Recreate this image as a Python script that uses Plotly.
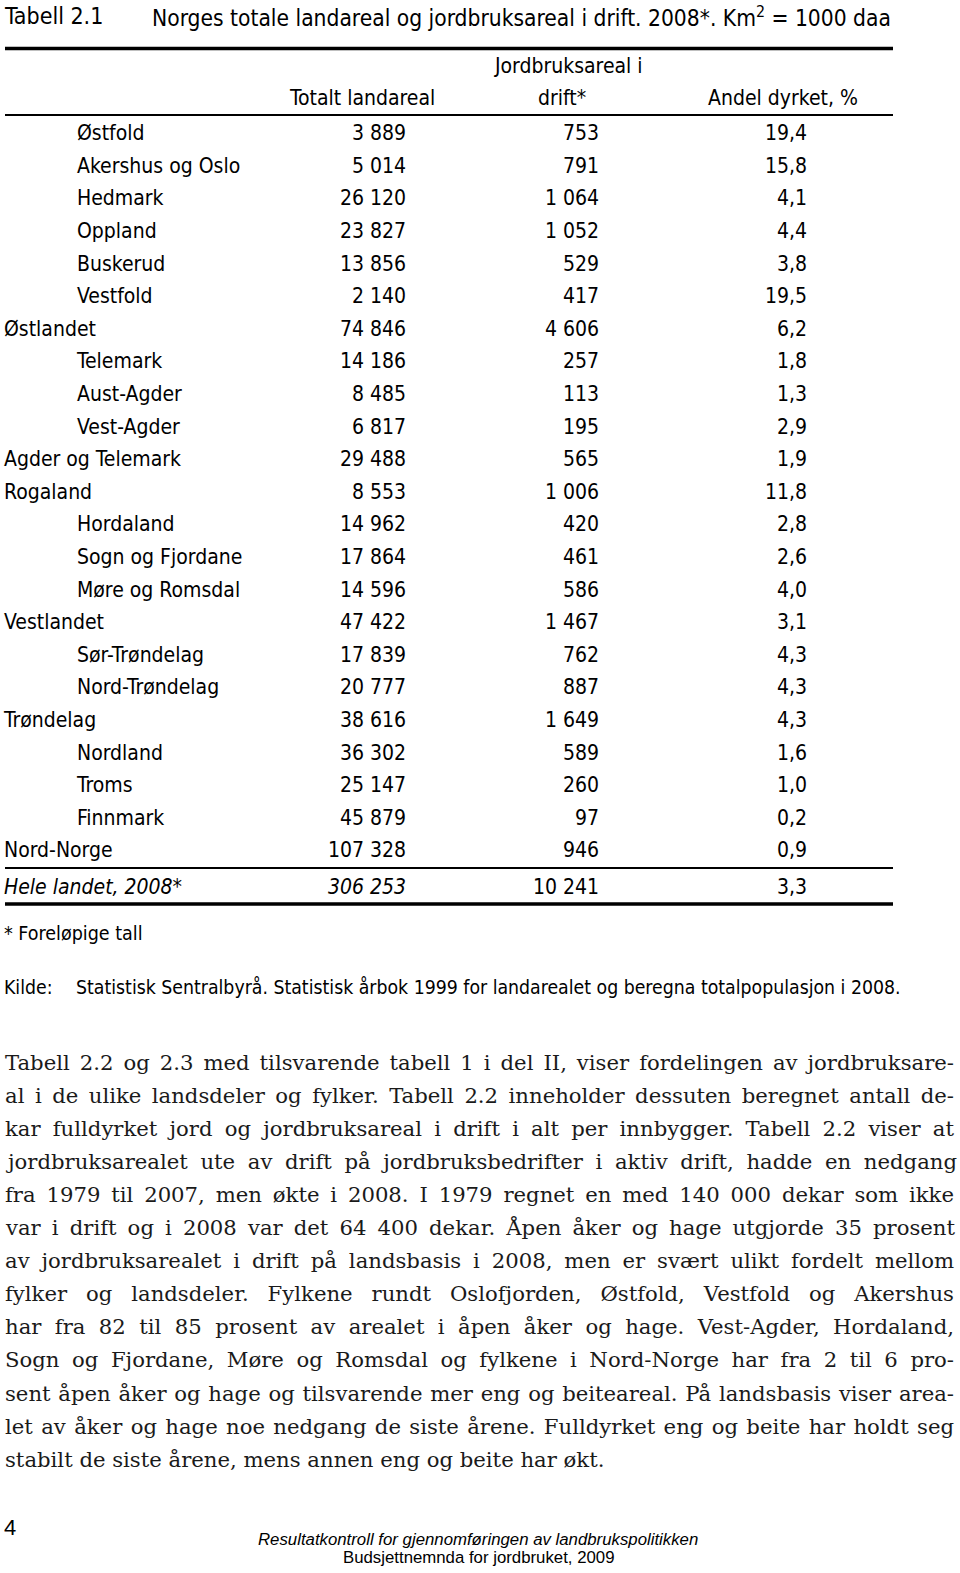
import json
import plotly.graph_objects as go

# ---- data ----
fylker = ["Østfold", "Akershus og Oslo", "Hedmark", "Oppland", "Buskerud", "Vestfold", "Østlandet",
          "Telemark", "Aust-Agder", "Vest-Agder", "Agder og Telemark", "Rogaland",
          "Hordaland", "Sogn og Fjordane", "Møre og Romsdal", "Vestlandet",
          "Sør-Trøndelag", "Nord-Trøndelag", "Trøndelag",
          "Nordland", "Troms", "Finnmark", "Nord-Norge", "Hele landet, 2008*"]
innrykk = [1, 1, 1, 1, 1, 1, 0, 1, 1, 1, 0, 0, 1, 1, 1, 0, 1, 1, 0, 1, 1, 1, 0, 0]
totalt_landareal = [3889, 5014, 26120, 23827, 13856, 2140, 74846, 14186, 8485, 6817, 29488, 8553,
                    14962, 17864, 14596, 47422, 17839, 20777, 38616, 36302, 25147, 45879, 107328, 306253]
jordbruksareal = [753, 791, 1064, 1052, 529, 417, 4606, 257, 113, 195, 565, 1006,
                  420, 461, 586, 1467, 762, 887, 1649, 589, 260, 97, 946, 10241]
andel_dyrket = [19.4, 15.8, 4.1, 4.4, 3.8, 19.5, 6.2, 1.8, 1.3, 2.9, 1.9, 11.8,
                2.8, 2.6, 4.0, 3.1, 4.3, 4.3, 4.3, 1.6, 1.0, 0.2, 0.9, 3.3]

tekst = [
    "Tabell 2.2 og 2.3 med tilsvarende tabell 1 i del II, viser fordelingen av jordbruksare-",
    "al i de ulike landsdeler og fylker. Tabell 2.2 inneholder dessuten beregnet antall de-",
    "kar fulldyrket jord og jordbruksareal i drift i alt per innbygger. Tabell 2.2 viser at",
    "jordbruksarealet ute av drift på jordbruksbedrifter i aktiv drift, hadde en nedgang",
    "fra 1979 til 2007, men økte i 2008. I 1979 regnet en med 140 000 dekar som ikke",
    "var i drift og i 2008 var det 64 400 dekar. Åpen åker og hage utgjorde 35 prosent",
    "av jordbruksarealet i drift på landsbasis i 2008, men er svært ulikt fordelt mellom",
    "fylker og landsdeler. Fylkene rundt Oslofjorden, Østfold, Vestfold og Akershus",
    "har fra 82 til 85 prosent av arealet i åpen åker og hage. Vest-Agder, Hordaland,",
    "Sogn og Fjordane, Møre og Romsdal og fylkene i Nord-Norge har fra 2 til 6 pro-",
    "sent åpen åker og hage og tilsvarende mer eng og beiteareal. På landsbasis viser area-",
    "let av åker og hage noe nedgang de siste årene. Fulldyrket eng og beite har holdt seg",
    "stabilt de siste årene, mens annen eng og beite har økt.",
]

# ---- layout helpers ----
narrow = "DejaVu Sans Condensed, Liberation Sans Narrow, Arial Narrow, sans-serif"
serif = "DejaVu Serif, Liberation Serif, serif"
arial = "Liberation Sans, Arial, sans-serif"
fs = 21


def tall(v):
    return f"{v:,}".replace(",", " ")


def komma(v):
    return f"{v:.1f}".replace(".", ",")


row_y = [135 + i * 32.6 for i in range(len(fylker) - 1)] + [889]
last = len(fylker) - 1

labels = [("<i>%s</i>" % f) if i == last else f for i, f in enumerate(fylker)]
tot_txt = [("<i>%s</i>" % tall(v)) if i == last else tall(v) for i, v in enumerate(totalt_landareal)]

fig = go.Figure()

fig.add_trace(go.Scatter(
    x=[77 if r else 4 for r in innrykk], y=row_y, text=labels,
    mode="text", textposition="middle right",
    textfont=dict(family=narrow, size=fs, color="black"), hoverinfo="skip"
))
fig.add_trace(go.Scatter(
    x=[406] * len(fylker), y=row_y, text=tot_txt,
    mode="text", textposition="middle left",
    textfont=dict(family=narrow, size=fs, color="black"), hoverinfo="skip"
))
fig.add_trace(go.Scatter(
    x=[599] * len(fylker), y=row_y, text=[tall(v) for v in jordbruksareal],
    mode="text", textposition="middle left",
    textfont=dict(family=narrow, size=fs, color="black"), hoverinfo="skip"
))
fig.add_trace(go.Scatter(
    x=[807] * len(fylker), y=row_y, text=[komma(v) for v in andel_dyrket],
    mode="text", textposition="middle left",
    textfont=dict(family=narrow, size=fs, color="black"), hoverinfo="skip"
))

# rules
for y, w in [(48.5, 3.5), (115, 2), (868, 2), (904, 3.5)]:
    fig.add_shape(type="line", x0=5, x1=893, y0=y, y1=y, xref="x", yref="y",
                  line=dict(color="black", width=w))

ann = []


def txt(x, y, s, size=fs, font=narrow, anchor="left", color="black", align="center"):
    ann.append(dict(x=x, y=y, xref="x", yref="y", text=s, showarrow=False,
                    xanchor=anchor, yanchor="middle", borderpad=0, align=align,
                    font=dict(family=font, size=size, color=color)))


txt(3, 16, "Tabell 2.1", size=23)
txt(151, 16, "Norges totale landareal og jordbruksareal i drift. 2008*. Km<sup>2</sup> = 1000 daa", size=22.6)
txt(362, 98, "Totalt landareal", anchor="center")
txt(568, 66, "Jordbruksareal i", anchor="center")
txt(562, 98, "drift*", anchor="center")
txt(783, 98, "Andel dyrket, %", anchor="center")
txt(3, 933, "* Foreløpige tall", size=19.5)
txt(3, 987, "Kilde:", size=19.3)
txt(75, 987, "Statistisk Sentralbyrå. Statistisk årbok 1999 for landarealet og beregna totalpopulasjon i 2008.", size=19.3)

for i, line in enumerate(tekst):
    txt(4, 1062 + i * 33.1, line, size=21.2, font=serif, color="#1a1a1a", align="left")

txt(3, 1527, "4", size=22, font=arial)
txt(478, 1539, "<i>Resultatkontroll for gjennomføringen av landbrukspolitikken</i>", size=16.8,
    font=arial, anchor="center")
txt(478, 1557, "Budsjettnemnda for jordbruket, 2009", size=16.8, font=arial, anchor="center")

fig.update_layout(
    width=960, height=1573,
    margin=dict(l=0, r=0, t=0, b=0),
    paper_bgcolor="white", plot_bgcolor="white",
    showlegend=False,
    annotations=ann,
    xaxis=dict(range=[0, 960], visible=False, fixedrange=True),
    yaxis=dict(range=[1573, 0], visible=False, fixedrange=True),
)

# drop the default page margin, and justify the paragraph lines (all but the last) to x=953
js = """
document.body.style.margin = '0';
var lines = %s;
document.querySelectorAll('text.annotation-text').forEach(function (el) {
    var raw = el.getAttribute('data-unformatted') || el.textContent;
    if (lines.indexOf(raw) < 0) return;
    var spaces = (raw.match(/ /g) || []).length;
    var w = el.getComputedTextLength();
    el.style.wordSpacing = ((949 - w) / spaces) + 'px';
});
""" % json.dumps(tekst[:-1], ensure_ascii=False)

fig.write_html("out.html", config={"displayModeBar": False}, post_script=js)
